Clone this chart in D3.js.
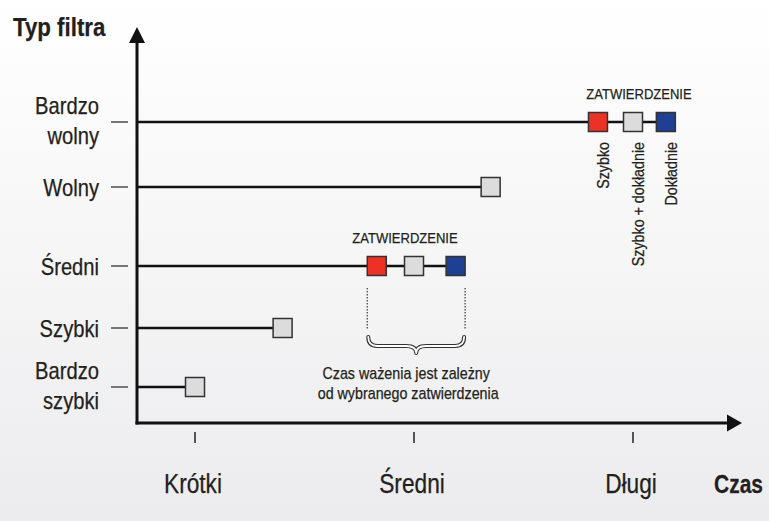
<!DOCTYPE html>
<html lang="pl">
<head>
<meta charset="utf-8">
<script src="https://cdn.jsdelivr.net/npm/d3@7"></script>
<style>
  body { margin: 0; background: #fff; }
  svg text { font-family: "Liberation Sans", Arial, sans-serif; fill: #231f20; stroke: #231f20; stroke-width: 0.25px; }
</style>
</head>
<body>
<div id="chart"></div>
<script>
// typy filtra (od dołu osi), etykiety w dwóch liniach tam gdzie trzeba
const filterTypes = ["Bardzo szybki", "Szybki", "Średni", "Wolny", "Bardzo wolny"];
const filterLabels = [["Bardzo", "szybki"], ["Szybki"], ["Średni"], ["Wolny"], ["Bardzo", "wolny"]];
const timeTicks = [1, 2, 3];
const timeLabels = ["Krótki", "Średni", "Długi"];
// czas filtra; trzy wartości = tryby zatwierdzenia
const filterTimes = [[1.0], [1.4], [1.83, 2.0, 2.19], [2.35], [2.84, 3.0, 3.15]];
const approvalModes = ["Szybko", "Szybko + dokładnie", "Dokładnie"];
const modeColors = ["#ec3226", "#dcdcdc", "#1f3f92"];

const width = 769, height = 521;
const axisX = 137, axisY = 423;
const squeeze = 0.84; // zwężenie czcionki (brak kroju condensed)

const svg = d3.select('#chart').append('svg')
    .attr('width', width).attr('height', height);

const defs = svg.append('defs');
const grad = defs.append('linearGradient').attr('id', 'bg')
    .attr('x1', 0).attr('y1', 0).attr('x2', 0).attr('y2', 1);
grad.append('stop').attr('offset', '0%').attr('stop-color', '#ffffff');
grad.append('stop').attr('offset', '100%').attr('stop-color', '#ececee');
svg.append('rect').attr('width', width).attr('height', height).attr('fill', 'url(#bg)');

const x = d3.scaleLinear().domain([1, 3]).range([195, 633]);
const y = d3.scaleOrdinal().domain(filterTypes).range([387, 328, 266, 187, 122]);

// osie ze strzałkami
svg.append('line').attr('x1', axisX).attr('x2', axisX).attr('y1', 40).attr('y2', axisY + 1.5)
    .attr('stroke', '#111').attr('stroke-width', 3);
svg.append('line').attr('x1', axisX - 1.5).attr('x2', 730).attr('y1', axisY).attr('y2', axisY)
    .attr('stroke', '#111').attr('stroke-width', 3);
svg.append('path').attr('d', `M${axisX},27 L${axisX + 8},43 L${axisX - 8},43 Z`).attr('fill', '#111');
svg.append('path').attr('d', `M742,${axisY} L727,${axisY - 8.5} L727,${axisY + 8.5} Z`).attr('fill', '#111');

svg.append('text').attr('x', 13).attr('y', 36)
    .attr('font-size', 26.5).attr('font-weight', 'bold').text('Typ filtra');

// oś X: kreski i etykiety
svg.selectAll('.xtick').data(timeTicks).enter().append('line')
    .attr('x1', d => x(d)).attr('x2', d => x(d))
    .attr('y1', 432).attr('y2', 443)
    .attr('stroke', '#555').attr('stroke-width', 2);
svg.selectAll('.xlabel').data(timeTicks).enter().append('text')
    .attr('x', d => x(d) - 2).attr('y', 493)
    .attr('text-anchor', 'middle').attr('font-size', 27)
    .text((d, i) => timeLabels[i]);

// oś Y: kreski i etykiety
svg.selectAll('.ytick').data(filterTypes).enter().append('line')
    .attr('x1', 111).attr('x2', 128)
    .attr('y1', d => y(d)).attr('y2', d => y(d))
    .attr('stroke', '#777').attr('stroke-width', 2);
const ylab = svg.selectAll('.ylabel').data(filterTypes).enter().append('text')
    .attr('text-anchor', 'end').attr('font-size', 24);
ylab.each(function(d, i) {
    const lines = filterLabels[i];
    const t = d3.select(this);
    lines.forEach((s, j) => {
        const base = lines.length === 1 ? y(d) + 8.5 : y(d) - 8 + j * 30;
        t.append('tspan').attr('x', 99).attr('y', base).text(s);
    });
});

// linie do znaczników
svg.selectAll('.bar').data(filterTypes).enter().append('line')
    .attr('x1', axisX).attr('x2', (d, i) => x(d3.max(filterTimes[i])))
    .attr('y1', d => y(d)).attr('y2', d => y(d))
    .attr('stroke', '#111').attr('stroke-width', 2.6);

// znaczniki
const sq = 19;
filterTypes.forEach((name, i) => {
    const vals = filterTimes[i];
    svg.selectAll(null).data(vals).enter().append('rect')
        .attr('x', d => x(d) - sq / 2).attr('y', y(name) - sq / 2)
        .attr('width', sq).attr('height', sq)
        .attr('fill', (d, j) => vals.length === 1 ? modeColors[1] : modeColors[j])
        .attr('stroke', '#333').attr('stroke-width', 1.5);

    if (vals.length > 1) {
        svg.append('text')
            .attr('x', x(vals[1]) + (i === 2 ? -9 : 6)).attr('y', y(name) - 23)
            .attr('text-anchor', 'middle').attr('font-size', 15.5)
            .text('ZATWIERDZENIE');
    }
});

// opisy trybów przy bardzo wolnym filtrze
const slow = filterTimes[4];
svg.selectAll('.mode').data(approvalModes).enter().append('text')
    .attr('transform', (d, j) => `translate(${x(slow[j]) + 11},${y('Bardzo wolny') + 20}) rotate(-90)`)
    .attr('text-anchor', 'end').attr('font-size', 17)
    .text(d => d);

// adnotacja przy średnim filtrze
const mid = filterTimes[2];
const left = x(mid[0]) - sq / 2, right = x(mid[2]) + sq / 2;
svg.selectAll('.dots').data([left, right]).enter().append('line')
    .attr('x1', d => d).attr('x2', d => d).attr('y1', 288).attr('y2', 329)
    .attr('stroke', '#555').attr('stroke-width', 1.4).attr('stroke-dasharray', '1.5 1.5');

const cx = (left + right) / 2;
const brace = `M${left + 1},337 Q${left + 1},346 ${left + 10},346 L${cx - 10},346 Q${cx},346 ${cx},353 Q${cx},346 ${cx + 10},346 L${right - 10},346 Q${right - 1},346 ${right - 1},337`;
svg.append('path').attr('d', brace).attr('fill', 'none')
    .attr('stroke', '#333').attr('stroke-width', 4).attr('stroke-linecap', 'round').attr('stroke-linejoin', 'round');
svg.append('path').attr('d', brace).attr('fill', 'none')
    .attr('stroke', '#fff').attr('stroke-width', 1.8).attr('stroke-linecap', 'round').attr('stroke-linejoin', 'round');

svg.append('text').attr('x', cx - 10).attr('y', 379).attr('text-anchor', 'middle').attr('font-size', 17)
    .text('Czas ważenia jest zależny');
svg.append('text').attr('x', cx - 8).attr('y', 399).attr('text-anchor', 'middle').attr('font-size', 17)
    .text('od wybranego zatwierdzenia');

// zwężenie wszystkich napisów
svg.selectAll('text').each(function() {
    const spans = this.querySelectorAll('tspan');
    const els = spans.length ? Array.from(spans) : [this];
    els.forEach(el => {
        const len = el.getComputedTextLength();
        d3.select(el).attr('textLength', len * squeeze).attr('lengthAdjust', 'spacingAndGlyphs');
    });
});

// tytuł osi X przy prawej krawędzi: zwężony transformacją
svg.append('text')
    .attr('transform', `translate(763,493) scale(${squeeze},1)`)
    .attr('text-anchor', 'end')
    .attr('font-size', 25).attr('font-weight', 'bold').text('Czas');
</script>
</body>
</html>
